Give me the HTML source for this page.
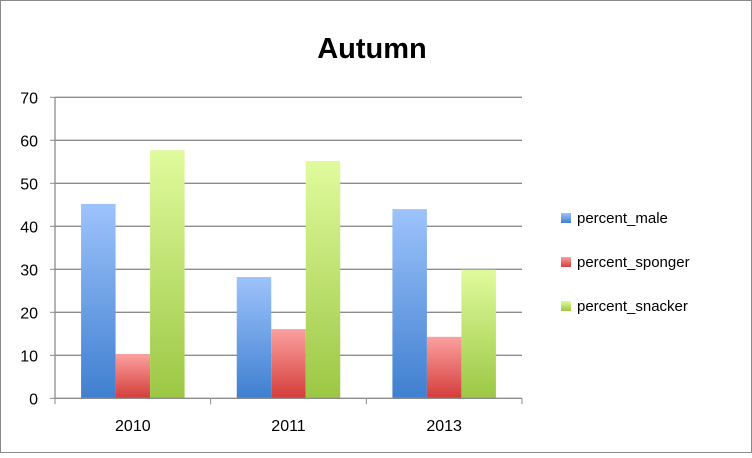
<!DOCTYPE html>
<html><head><meta charset="utf-8"><style>
body{margin:0;background:#fff;font-family:"Liberation Sans",sans-serif}
svg text{font-family:"Liberation Sans",sans-serif}
</style></head><body>
<svg width="752" height="453" viewBox="0 0 752 453">
<defs>
<linearGradient id="gb" x1="0" y1="0" x2="0" y2="1"><stop offset="0" stop-color="#9dc3fb"/><stop offset="1" stop-color="#3f7fd0"/></linearGradient>
<linearGradient id="gr" x1="0" y1="0" x2="0" y2="1"><stop offset="0" stop-color="#fba1a0"/><stop offset="1" stop-color="#d43d3a"/></linearGradient>
<linearGradient id="gg" x1="0" y1="0" x2="0" y2="1"><stop offset="0" stop-color="#e0fb9d"/><stop offset="1" stop-color="#9cc744"/></linearGradient>
</defs>
<rect x="0.5" y="0.5" width="751" height="452" fill="#fff" stroke="#8a8a8a"/>
<text x="372" y="58" text-anchor="middle" font-size="29" font-weight="bold">Autumn</text>
<g id="grid"></g><g id="bars"></g><g id="axes"></g><g id="legend"></g>
</svg>
<script>
const categories=["2010","2011","2013"];
const seriesNames=["percent_male","percent_sponger","percent_snacker"];
const male=[45.2,28.2,44.0];
const sponger=[10.3,16.1,14.3];
const snacker=[57.7,55.2,29.9];
const yTicks=[0,10,20,30,40,50,60,70];
const NS="http://www.w3.org/2000/svg";
const L=55,R=522,Y0=398.3,PX=4.3;
const y=v=>Y0-v*PX;
const cw=(R-L)/categories.length;
function mk(tag,attrs,parent){const e=document.createElementNS(NS,tag);for(const k in attrs)e.setAttribute(k,attrs[k]);document.getElementById(parent).appendChild(e);return e;}
yTicks.forEach(t=>{
 if(t>0){const g=mk('line',{x1:L,x2:R,y1:y(t),y2:y(t),stroke:'#8c8c8c','stroke-width':1.3},'grid');
 
 }
 const tk=mk('line',{x1:L-5,x2:L,y1:y(t),y2:y(t),stroke:'#8c8c8c'},'axes');
 
 
 const tx=mk('text',{x:38,y:y(t)+6,'text-anchor':'end','font-size':16},'axes');tx.textContent=t;
 
 
});
const series=[male,sponger,snacker],fills=['url(#gb)','url(#gr)','url(#gg)'];
const bw=34.5;
categories.forEach((c,i)=>{
 const cx=L+cw*(i+0.5);
 series.forEach((s,j)=>{
  const x=cx-1.5*bw+j*bw;
  const r=mk('rect',{x:x,y:y(s[i]),width:bw,height:Y0-y(s[i]),fill:fills[j]},'bars');
  
  
 });
 const tx=mk('text',{x:cx,y:431,'text-anchor':'middle','font-size':16},'axes');tx.textContent=c;
 
 
});
for(let i=0;i<=categories.length;i++){const t=mk('line',{x1:L+cw*i,x2:L+cw*i,y1:Y0,y2:Y0+6,stroke:'#8c8c8c'},'axes');
 
 }
const ax=mk('line',{x1:L,x2:L,y1:y(70),y2:Y0,stroke:'#8c8c8c','stroke-width':1.3},'axes');


const xa=mk('line',{x1:L,x2:R,y1:Y0,y2:Y0,stroke:'#8c8c8c','stroke-width':1.3},'axes');


seriesNames.forEach((n,j)=>{
 const ly=218+j*44;
 const r=mk('rect',{x:561,y:ly-5,width:10,height:10,fill:fills[j]},'legend');
 
 
 const t=mk('text',{x:577,y:ly+5,'font-size':15},'legend');t.textContent=n;
 
 
});
</script>
</body></html>
